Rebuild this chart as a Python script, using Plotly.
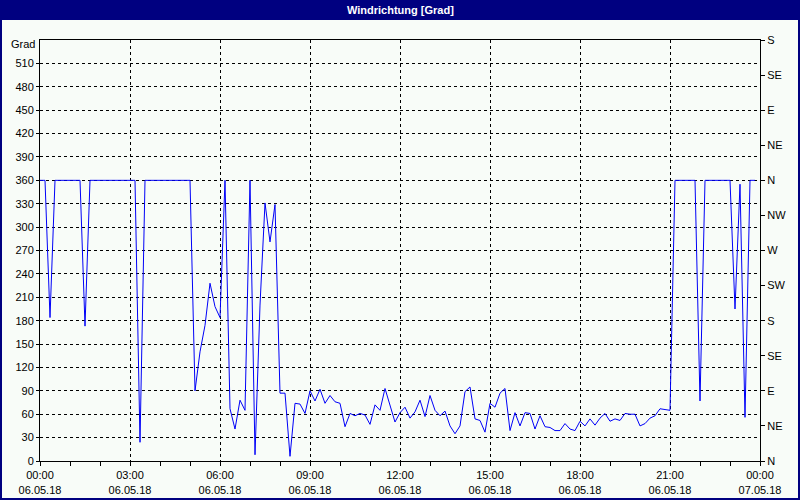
import pandas as pd
import plotly.graph_objects as go

# ---------------- data ----------------
start_time = "2018-05-06 00:00"
sample_step = "10min"
wind_dir = [
    360, 360, 184, 360, 360, 360, 360, 360, 360, 173,   # k 0-9
    360, 360, 360, 360, 360, 360, 360, 360, 360, 360,   # 10-19
    24, 360, 360, 360, 360, 360, 360, 360, 360, 360,    # 20-29
    360, 90, 140, 174, 228, 198, 184, 360, 67, 41,      # 30-39
    78, 65, 360, 8, 200, 331, 281, 329, 87, 87,         # 40-49
    6, 74, 73, 61, 90, 77, 92, 74, 84, 76,              # 50-59
    74, 44, 61, 58, 61, 59, 47, 72, 65, 93,             # 60-69
    73, 50, 62, 69, 55, 63, 78, 57, 84, 65,             # 70-79
    58, 64, 45, 35, 45, 89, 95, 54, 52, 37,             # 80-89
    74, 69, 87, 93, 39, 62, 45, 62, 61, 41,             # 90-99
    58, 44, 43, 39, 39, 48, 41, 39, 51, 45,             # 100-109
    54, 46, 55, 61, 51, 54, 52, 61, 60, 60,             # 110-119
    45, 48, 55, 58, 67, 66, 65, 360, 360, 360,          # 120-129
    360, 360, 77, 360, 360, 360, 360, 360, 360, 195,    # 130-139
    355, 56, 360, 360,                                  # 140-143
]
x_start = "2018-05-06 00:00"
x_end = "2018-05-07 00:00"
x_tick_step = "3h"
left_ticks = list(range(0, 511, 30))
right_vals = list(range(0, 541, 45))
right_text = ["N", "NE", "E", "SE", "S", "SW", "W", "NW", "N", "NE", "E", "SE", "S"]
title_text = "Windrichtung [Grad]"
unit_text = "Grad"

times = pd.date_range(start_time, periods=len(wind_dir), freq=sample_step)
tick_times = pd.date_range(x_start, x_end, freq=x_tick_step)
tick_text = [t.strftime("%H:%M<br>%d.%m.%y") for t in tick_times]

# ---------------- style ----------------
NAVY = "#000080"
BG = "#F8FCF8"
FONT = "Liberation Sans"
W, H = 800, 500
L, R, T, B = 40, 40, 40, 39
pw, ph = W - L - R, H - T - B


def px_x(x):
    return (x - L) / pw


def px_y(y):
    return (H - B - y) / ph


fig = go.Figure()
fig.add_trace(go.Scatter(
    x=times, y=wind_dir, mode="lines",
    line=dict(color="#0000F8", width=1),
    showlegend=False, hoverinfo="skip",
))
# invisible trace to activate the right axis
fig.add_trace(go.Scatter(
    x=[times[0]], y=[0], yaxis="y2", mode="markers",
    marker=dict(opacity=0), showlegend=False, hoverinfo="skip",
))

tickfont = dict(family=FONT, size=11, color="black")
grid = dict(showgrid=True, gridcolor="black", gridwidth=1, griddash="3px,3px")

fig.update_layout(
    template="none",
    width=W, height=H,
    margin=dict(l=L, r=R, t=T, b=B, pad=0),
    paper_bgcolor=NAVY,
    plot_bgcolor=BG,
    xaxis=dict(
        type="date", range=[x_start, x_end], automargin=False,
        tickvals=list(tick_times), ticktext=tick_text,
        ticks="outside", ticklen=4, tickcolor="black", tickwidth=1,
        tickfont=tickfont,
        showline=True, linecolor="black", linewidth=1, mirror=True,
        zeroline=False,
        minor=dict(dtick=3600000, ticks="outside", ticklen=4,
                   tickcolor="black", showgrid=False),
        **grid,
    ),
    yaxis=dict(
        range=[0, 540], tickvals=left_ticks, automargin=False,
        ticks="outside", ticklen=3, tickcolor="black",
        tickfont=tickfont,
        showline=True, linecolor="black", linewidth=1, mirror=True,
        zeroline=False,
        **grid,
    ),
    yaxis2=dict(
        range=[0, 540], overlaying="y", side="right", automargin=False,
        tickvals=right_vals, ticktext=right_text,
        ticks="outside", ticklen=4, tickcolor="black",
        tickfont=tickfont,
        showline=True, linecolor="black", linewidth=1,
        showgrid=False, zeroline=False,
    ),
    shapes=[dict(
        type="rect", xref="paper", yref="paper", layer="below",
        x0=px_x(2), x1=px_x(798), y0=px_y(498), y1=px_y(20),
        fillcolor=BG, line=dict(width=0),
    )],
    annotations=[
        dict(text="<b>" + title_text + "</b>", xref="paper", yref="paper",
             x=0.5, y=px_y(10), xanchor="center", yanchor="middle",
             showarrow=False, font=dict(family=FONT, size=11, color="white")),
        dict(text=unit_text, xref="paper", yref="paper",
             x=px_x(37), y=px_y(44), xanchor="right", yanchor="middle",
             showarrow=False, font=tickfont),
    ],
)

fig.write_html(
    "out.html",
    config={"displayModeBar": False},
    post_script="document.body.style.margin='0';document.body.style.overflow='hidden';",
)
